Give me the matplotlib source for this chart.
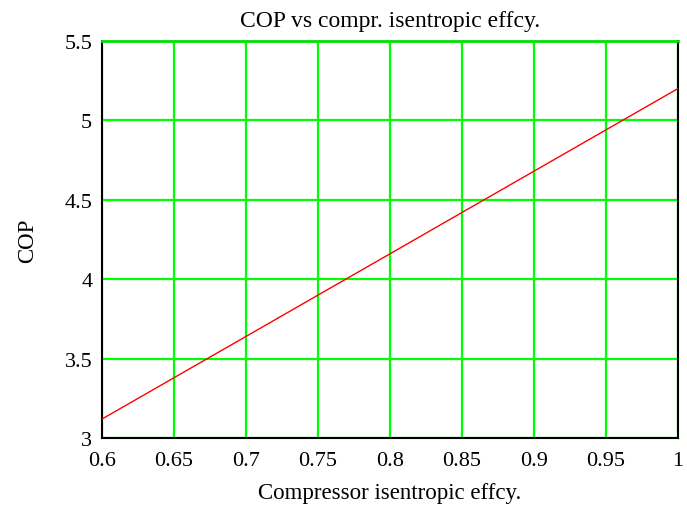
import matplotlib
matplotlib.use("Agg")
import matplotlib.pyplot as plt

# compressor isentropic efficiency vs COP
eta = [0.6, 0.65, 0.7, 0.75, 0.8, 0.85, 0.9, 0.95, 1.0]
cop = [3.12, 3.38, 3.64, 3.90, 4.16, 4.42, 4.68, 4.94, 5.20]

xticks = [0.6, 0.65, 0.7, 0.75, 0.8, 0.85, 0.9, 0.95, 1]
xlabels = ["0.6", "0.65", "0.7", "0.75", "0.8", "0.85", "0.9", "0.95", "1"]
yticks = [3, 3.5, 4, 4.5, 5, 5.5]
ylabels = ["3", "3.5", "4", "4.5", "5", "5.5"]

plt.rcParams['font.family'] = ['Liberation Serif', 'DejaVu Serif']

fig = plt.figure(figsize=(6.87, 5.10), dpi=100)
ax = fig.add_axes([0.1485, 0.139, 0.8385, 0.779])

ax.plot(eta, cop, color="#ff0000", lw=1.0, zorder=3)

ax.set_xlim(0.6, 1.0)
ax.set_ylim(3, 5.5)
ax.set_xticks(xticks)
ax.set_xticklabels(xlabels)
ax.set_yticks(yticks)
ax.set_yticklabels(ylabels)
ax.tick_params(length=0, labelsize=16)
ax.tick_params(axis="x", pad=9)
ax.tick_params(axis="y", pad=7)
ax.grid(True, color="#00ff00", lw=1.6, zorder=1)
ax.set_axisbelow(True)

for side in ["left", "bottom", "right"]:
    ax.spines[side].set_color("black")
    ax.spines[side].set_linewidth(1.5)
ax.spines["top"].set_color("#00e000")
ax.spines["top"].set_linewidth(2)

ax.set_title("COP vs compr. isentropic effcy.", fontsize=17, pad=11)
ax.set_xlabel("Compressor isentropic effcy.", fontsize=16.5, labelpad=9)
ax.set_ylabel("COP", fontsize=16.5, labelpad=19)

fig.savefig("out.png", dpi=100)
